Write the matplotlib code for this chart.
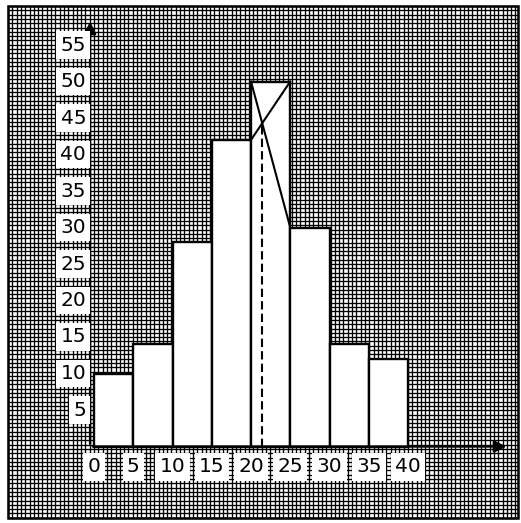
import numpy as np
import matplotlib

matplotlib.use("Agg")
from matplotlib import pyplot as plt

# ----------------------
# Data
# ----------------------
class_edges = [0, 5, 10, 15, 20, 25, 30, 35, 40]
frequencies = [10, 14, 28, 42, 50, 30, 14, 12]
y_ticks = [5, 10, 15, 20, 25, 30, 35, 40, 45, 50, 55]

W, H = 521, 523

fig = plt.figure(figsize=(W / 100, H / 100), dpi=100)

# ----------------------
# Graph paper background (pixel coords)
# ----------------------
bg = fig.add_axes([0, 0, 1, 1])
bg.set_xlim(0, W)
bg.set_ylim(H, 0)
bg.axis("off")

left, right, top, bottom = 8, 518, 6, 518
cell = 4.3
gx = np.arange(left, right + 0.1, cell)
gy = np.arange(top, bottom + 0.1, cell)
bg.vlines(gx, top, bottom, color="black", lw=0.95)
bg.hlines(gy, left, right, color="black", lw=0.95)
bg.add_patch(plt.Rectangle((left, top), right - left, bottom - top,
                           fill=False, ec="black", lw=1.8))

# ----------------------
# Histogram (data coords)
# ----------------------
ax = fig.add_axes([0, 0, 1, 1])
ax.patch.set_visible(False)
ax.axis("off")
px_x = 7.85  # px per unit x
px_y = 7.3   # px per unit y
x0, y0 = 94, 446.5
ax.set_xlim(-x0 / px_x, (W - x0) / px_x)
ax.set_ylim(-(H - y0) / px_y, y0 / px_y)

ax.bar(class_edges[:-1], frequencies, width=5, align="edge",
       color="white", edgecolor="black", linewidth=1.7, zorder=3)

# axes with arrows
ax.annotate("", xy=(-0.5, 58.6), xytext=(-0.5, 0),
            arrowprops=dict(arrowstyle="-|>", color="black", lw=1.7,
                            mutation_scale=18), zorder=4)
ax.annotate("", xy=(52.9, 0), xytext=(-0.5, 0),
            arrowprops=dict(arrowstyle="-|>", color="black", lw=1.7,
                            mutation_scale=18), zorder=4)

# mode construction
i = int(np.argmax(frequencies))
xl, xr = class_edges[i], class_edges[i + 1]
f0, f1, f2 = frequencies[i - 1], frequencies[i], frequencies[i + 1]
ax.plot([xl, xr], [f1, f2], color="black", lw=1.5, zorder=4)
ax.plot([xl, xr], [f0, f1], color="black", lw=1.5, zorder=4)
mode = xl + (f1 - f0) / ((f1 - f0) + (f1 - f2)) * (xr - xl)
y_cross = f0 + (f1 - f0) * (mode - xl) / (xr - xl)
ax.plot([mode, mode], [0, y_cross], color="black", lw=1.5,
        ls=(0, (4, 2)), zorder=4)

# labels
box = dict(facecolor="white", edgecolor="none", pad=3)
for v in class_edges:
    ax.text(v, -2.8, str(v), ha="center", va="center", fontsize=14.5,
            family="DejaVu Sans", bbox=box, zorder=5)
for v in y_ticks:
    ax.text(-1.0, v, str(v), ha="right", va="center", fontsize=14.5,
            family="DejaVu Sans", bbox=box, zorder=5)

plt.savefig("out.png", dpi=100)
